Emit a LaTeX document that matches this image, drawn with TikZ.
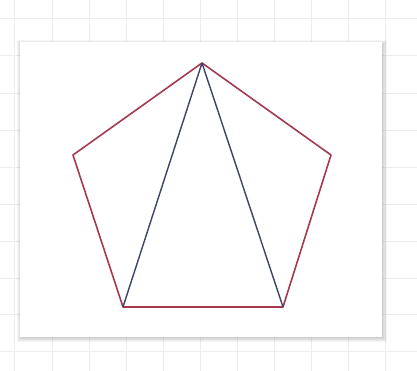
\documentclass[tikz,border=0pt]{standalone}
\usepackage{tikz}
\definecolor{side}{HTML}{A3384F}
\definecolor{diag}{HTML}{3E4466}
\definecolor{gridline}{HTML}{EDEDED}

\begin{document}
\begin{tikzpicture}[x=0.02cm, y=-0.02cm,
  paper/.style={fill=white},
  shade/.style={fill=black, opacity=0.04},
  sideline/.style={side, line width=0.9pt, line join=round},
  diagline/.style={diag, line width=0.8pt},
]

\useasboundingbox (0,0) rectangle (417,371);

% squared background
\fill[white] (0,0) rectangle (417,371);
\foreach \gx in {14,52,89,126,163,200,237,274,311,348,385} {
  \draw[gridline, line width=0.5pt] (\gx,0) -- (\gx,371);
}
\foreach \gy in {18,55,93,130,167,204,241,278,314,351} {
  \draw[gridline, line width=0.5pt] (0,\gy) -- (417,\gy);
}

% sheet with its shadow
\foreach \d in {0,1,2,3,4,5} {
  \fill[shade] (20-\d+2,42-\d+3) rectangle (382+\d,337+\d);
}
\fill[paper] (20,42) rectangle (382,337);

\coordinate (apex) at (202,63);
\coordinate (west) at (73,155);
\coordinate (east) at (331,155);
\coordinate (sw) at (123,307);
\coordinate (se) at (283,307);

\draw[sideline] (apex) -- (east) -- (se) -- (sw) -- (west) -- cycle;
\draw[diagline] (apex) -- (sw);
\draw[diagline] (apex) -- (se);

\end{tikzpicture}
\end{document}
